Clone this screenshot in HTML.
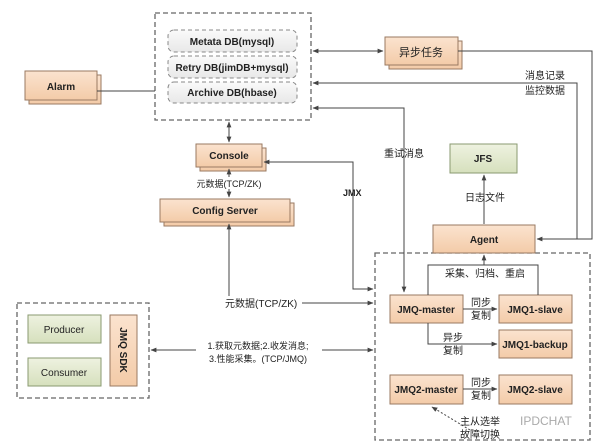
<!DOCTYPE html>
<html><head><meta charset="utf-8"><style>
body{margin:0;background:#fff}
svg{display:block}
text{font-family:"Liberation Sans","Noto Sans CJK SC",sans-serif;font-size:10px;fill:#222}
.b{font-weight:bold}
</style></head><body>
<svg width="600" height="445" viewBox="0 0 600 445">
<defs>
<linearGradient id="pg" x1="0" y1="0" x2="0" y2="1"><stop offset="0" stop-color="#fbe3cf"/><stop offset="1" stop-color="#f3cba8"/></linearGradient>
<linearGradient id="gg" x1="0" y1="0" x2="0" y2="1"><stop offset="0" stop-color="#eef2e0"/><stop offset="1" stop-color="#d6e0bd"/></linearGradient>
<linearGradient id="wg" x1="0" y1="0" x2="0" y2="1"><stop offset="0" stop-color="#fafafa"/><stop offset="1" stop-color="#e8e8e8"/></linearGradient>
<marker id="a" viewBox="0 0 10 10" refX="9" refY="5" markerWidth="6" markerHeight="6" orient="auto-start-reverse"><path d="M0,1 L10,5 L0,9 z" fill="#444"/></marker>
</defs>
<g fill="none" stroke="#666" stroke-width="1.3" stroke-dasharray="5,3">
<rect x="155" y="13" width="156" height="107"/>
<rect x="375" y="253" width="215" height="187"/>
<rect x="17" y="303" width="132" height="95"/>
</g>
<g stroke="#888" stroke-width="1" stroke-dasharray="4,3" fill="url(#wg)">
<rect x="168" y="30" width="129" height="22" rx="6"/>
<rect x="168" y="56" width="129" height="22" rx="6"/>
<rect x="168" y="82" width="129" height="21" rx="6"/>
</g>
<text class="b" x="232" y="45" text-anchor="middle">Metata DB(mysql)</text>
<text class="b" x="232" y="71" text-anchor="middle">Retry DB(jimDB+mysql)</text>
<text class="b" x="232" y="96" text-anchor="middle">Archive DB(hbase)</text>
<g stroke="#9a7a62" stroke-width="1" fill="url(#pg)">
<rect x="29" y="75" width="72" height="29"/><rect x="25" y="71" width="72" height="29"/>
<rect x="389" y="41" width="73" height="28"/><rect x="385" y="37" width="73" height="28"/>
<rect x="200" y="148" width="66" height="23"/><rect x="196" y="144" width="66" height="23"/>
<rect x="164" y="203" width="130" height="23"/><rect x="160" y="199" width="130" height="23"/>
<rect x="433" y="225" width="102" height="28"/>
<rect x="390" y="295" width="73" height="28"/>
<rect x="499" y="295" width="73" height="28"/>
<rect x="499" y="330" width="73" height="28"/>
<rect x="390" y="375" width="73" height="29"/>
<rect x="499" y="375" width="73" height="29"/>
<rect x="110" y="315" width="27" height="71"/>
</g>
<g stroke="#8a9a70" stroke-width="1" fill="url(#gg)">
<rect x="450" y="144" width="67" height="29"/>
<rect x="28" y="315" width="73" height="28"/>
<rect x="28" y="358" width="73" height="28"/>
</g>
<text class="b" x="61" y="90" text-anchor="middle">Alarm</text>
<text x="421" y="56" text-anchor="middle" style="font-size:11px">异步任务</text>
<text class="b" x="229" y="159" text-anchor="middle">Console</text>
<text class="b" x="225" y="214" text-anchor="middle">Config Server</text>
<text class="b" x="483" y="162" text-anchor="middle">JFS</text>
<text class="b" x="484" y="243" text-anchor="middle">Agent</text>
<text class="b" x="426" y="313" text-anchor="middle">JMQ-master</text>
<text class="b" x="535" y="313" text-anchor="middle">JMQ1-slave</text>
<text class="b" x="535" y="348" text-anchor="middle">JMQ1-backup</text>
<text class="b" x="426" y="393" text-anchor="middle">JMQ2-master</text>
<text class="b" x="535" y="393" text-anchor="middle">JMQ2-slave</text>
<text x="64" y="333" text-anchor="middle">Producer</text>
<text x="64" y="376" text-anchor="middle">Consumer</text>
<text class="b" transform="translate(120,350) rotate(90)" text-anchor="middle">JMQ SDK</text>
<g stroke="#444" stroke-width="1" fill="none">
<line x1="97" y1="91" x2="155" y2="91"/>
<line x1="313" y1="51" x2="383" y2="51" marker-start="url(#a)" marker-end="url(#a)"/>
<polyline points="458,51 592,51 592,239 537,239" marker-end="url(#a)"/>
<polyline points="577,239 577,83 313,83" marker-end="url(#a)"/>
<polyline points="404,292 404,108 313,108" marker-start="url(#a)" marker-end="url(#a)"/>
<line x1="229" y1="122" x2="229" y2="142" marker-start="url(#a)" marker-end="url(#a)"/>
<line x1="229" y1="169" x2="229" y2="177" marker-start="url(#a)"/>
<line x1="229" y1="189" x2="229" y2="197" marker-end="url(#a)"/>
<polyline points="373,289 353,289 353,162 264,162" marker-start="url(#a)" marker-end="url(#a)"/>
<line x1="229" y1="296" x2="229" y2="224" marker-end="url(#a)"/>
<line x1="302" y1="303" x2="373" y2="303" marker-end="url(#a)"/>
<line x1="196" y1="350" x2="151" y2="350" marker-end="url(#a)"/>
<line x1="322" y1="350" x2="373" y2="350" marker-end="url(#a)"/>
<line x1="484" y1="224" x2="484" y2="175" marker-end="url(#a)"/>
<polyline points="428,295 428,265 538,265 538,295"/>
<line x1="484" y1="265" x2="484" y2="255" marker-end="url(#a)"/>
<line x1="463" y1="309" x2="497" y2="309" marker-end="url(#a)"/>
<polyline points="428,323 428,344 497,344" marker-end="url(#a)"/>
<line x1="463" y1="389" x2="497" y2="389" marker-end="url(#a)"/>
<line x1="470" y1="430" x2="432" y2="407" stroke-dasharray="2,2" marker-end="url(#a)"/>
</g>
<rect x="200" y="178" width="60" height="11" fill="#fff"/>
<text x="229" y="187" text-anchor="middle" style="font-size:9px">元数据(TCP/ZK)</text>
<text x="525" y="79" style="font-size:10px">消息记录</text>
<text x="525" y="94" style="font-size:10px">监控数据</text>
<text x="384" y="157" style="font-size:10px">重试消息</text>
<text class="b" x="343" y="196" style="font-size:9px">JMX</text>
<text x="465" y="201" style="font-size:10px">日志文件</text>
<text x="225" y="307" style="font-size:10px">元数据(TCP/ZK)</text>
<text x="258" y="349" text-anchor="middle" style="font-size:9px">1.获取元数据;2.收发消息;</text>
<text x="258" y="362" text-anchor="middle" style="font-size:9px">3.性能采集。(TCP/JMQ)</text>
<text x="445" y="277" style="font-size:10px">采集、归档、重启</text>
<text x="471" y="306">同步</text><text x="471" y="319">复制</text>
<text x="443" y="341">异步</text><text x="443" y="354">复制</text>
<text x="471" y="386">同步</text><text x="471" y="399">复制</text>
<text x="460" y="425">主从选举</text><text x="460" y="438">故障切换</text>
<text x="520" y="425" style="font-size:12px;fill:#aaa">IPDCHAT</text>
</svg>
</body></html>
